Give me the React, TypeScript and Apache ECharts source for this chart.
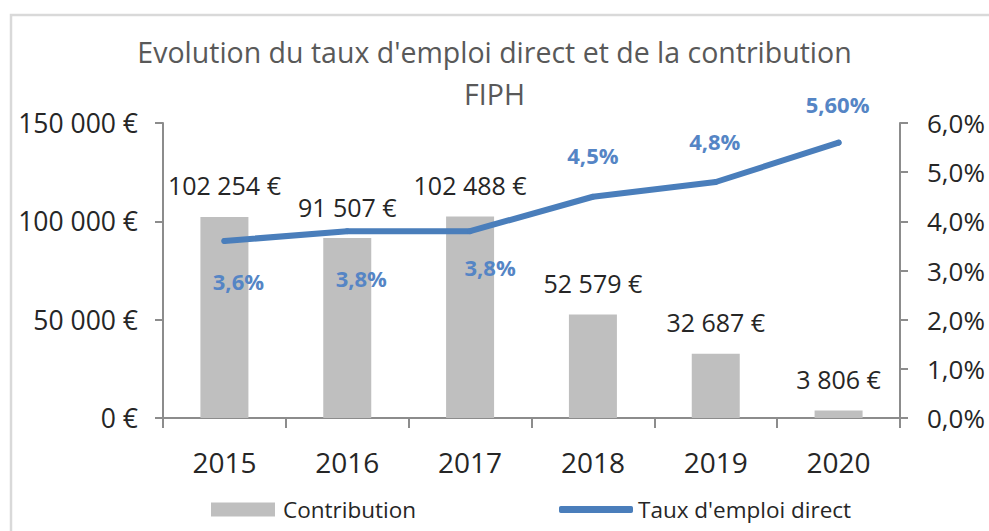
import React, { useEffect, useRef } from "react";
import * as echarts from "echarts";

const years = ["2015", "2016", "2017", "2018", "2019", "2020"];
const contribution = [102254, 91507, 102488, 52579, 32687, 3806];
const tauxEmploi = [3.6, 3.8, 3.8, 4.5, 4.8, 5.6];
const tauxLabels = ["3,6%", "3,8%", "3,8%", "4,5%", "4,8%", "5,60%"];
const titleLines = ["Evolution du taux d'emploi direct et de la contribution", "FIPH"];
const seriesNames = ["Contribution", "Taux d'emploi direct"];

// layout of line labels (dx, dy from the point), not data
const lineLabelOffsets: [number, number][] = [
  [14, 40],
  [14, 47],
  [20, 36],
  [0, -42],
  [-1, -41],
  [-1, -39],
];

const FONT = "'Open Sans', 'Noto Sans', sans-serif";

function euro(v: number): string {
  return String(Math.round(v)).replace(/\B(?=(\d{3})+(?!\d))/g, " ") + " €";
}
function pct(v: number): string {
  return v.toFixed(1).replace(".", ",") + "%";
}

export default function App() {
  const ref = useRef<HTMLDivElement>(null);
  useEffect(() => {
    document.body.style.margin = "0";
    if (!ref.current) return;
    const chart = echarts.init(ref.current, null, { renderer: "svg" });
    const axisGray = "#8c8c8c";
    chart.setOption({
      animation: false,
      backgroundColor: "#ffffff",
      textStyle: { fontFamily: FONT },
      graphic: [
        {
          type: "rect",
          shape: { x: 11, y: 15, width: 1100, height: 700 },
          style: { fill: "none", stroke: "#d9d9d9", lineWidth: 2.5 },
          silent: true,
        },
      ],
      title: {
        text: titleLines.join("\n"),
        left: "center",
        top: 31,
        padding: 0,
        textStyle: {
          fontFamily: FONT,
          fontSize: 28.5,
          fontWeight: "normal",
          color: "#595959",
          lineHeight: 42,
        },
      },
      legend: [
        {
          data: [seriesNames[0]],
          left: 211,
          top: 498,
          padding: 0,
          itemWidth: 64,
          itemHeight: 14,
          icon: "rect",
          textStyle: { fontFamily: FONT, fontSize: 22.5, color: "#262626", padding: [0, 0, 0, 3] },
        },
        {
          data: [seriesNames[1]],
          left: 559,
          top: 498,
          padding: 0,
          itemWidth: 74,
          itemHeight: 7,
          icon: "roundRect",
          textStyle: { fontFamily: FONT, fontSize: 22.5, color: "#262626" },
        },
      ],
      grid: { left: 163, right: 89, top: 123, bottom: 113, containLabel: false },
      xAxis: {
        type: "category",
        data: years,
        axisLine: { show: true, lineStyle: { color: axisGray, width: 2 } },
        axisTick: { show: true, length: 10, lineStyle: { color: axisGray, width: 2 } },
        axisLabel: { fontFamily: FONT, fontSize: 28, color: "#262626", margin: 30 },
      },
      yAxis: [
        {
          type: "value",
          min: 0,
          max: 150000,
          interval: 50000,
          splitLine: { show: false },
          axisLine: { show: true, lineStyle: { color: axisGray, width: 2 } },
          axisTick: { show: true, length: 8, lineStyle: { color: axisGray, width: 2 } },
          axisLabel: { fontFamily: FONT, fontSize: 26.5, color: "#262626", margin: 25, formatter: (v: number) => euro(v) },
        },
        {
          type: "value",
          min: 0,
          max: 6,
          interval: 1,
          splitLine: { show: false },
          axisLine: { show: true, lineStyle: { color: axisGray, width: 2 } },
          axisTick: { show: true, length: 8, lineStyle: { color: axisGray, width: 2 } },
          axisLabel: { fontFamily: FONT, fontSize: 26, color: "#262626", margin: 27, formatter: (v: number) => pct(v) },
        },
      ],
      series: [
        {
          name: seriesNames[0],
          type: "bar",
          data: contribution,
          barWidth: 48,
          itemStyle: { color: "#bfbfbf" },
          label: {
            show: true,
            position: "top",
            distance: 19,
            fontFamily: FONT,
            fontSize: 25,
            color: "#262626",
            formatter: (p: any) => euro(p.value),
          },
          z: 2,
        },
        {
          name: seriesNames[1],
          type: "line",
          yAxisIndex: 1,
          data: tauxEmploi.map((v, i) => ({
            value: v,
            label: { offset: lineLabelOffsets[i] },
          })),
          symbol: "circle",
          symbolSize: 6,
          itemStyle: { color: "#4a7ebb" },
          lineStyle: { color: "#4a7ebb", width: 6, cap: "round", join: "round" },
          label: {
            show: true,
            position: "inside",
            fontFamily: FONT,
            fontSize: 22,
            fontWeight: "bold",
            color: "#5585c5",
            formatter: (p: any) => tauxLabels[p.dataIndex],
          },
          z: 5,
        },
      ],
    });
    return () => chart.dispose();
  }, []);
  return <div ref={ref} style={{ width: 989, height: 531 }} />;
}
